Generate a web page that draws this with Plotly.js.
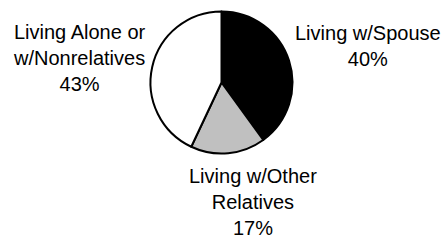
<!DOCTYPE html>
<html>
<head>
<meta charset="utf-8">
<script src="https://cdn.plot.ly/plotly-3.0.1.min.js"></script>
<style>html,body{margin:0;padding:0;background:#fff;}#chart{width:445px;height:241px;}</style>
</head>
<body>
<div id="chart"></div>
<script>
const categories = ["Living w/Spouse", "Living w/Other<br>Relatives", "Living Alone or<br>w/Nonrelatives"];
const percents = [40, 17, 43];
const sliceColors = ["#000000", "#c0c0c0", "#ffffff"];

const W = 445, H = 241;
const cx = 221.5, cy = 82.5, r = 71;
// label anchor positions (px) for each category
const labelPos = [[368, 46], [253, 202], [79, 58]];

const trace = {
  type: "pie",
  values: percents,
  labels: categories,
  sort: false,
  direction: "clockwise",
  rotation: 0,
  textinfo: "none",
  hoverinfo: "none",
  marker: { colors: sliceColors, line: { color: "#000", width: 2 } },
  domain: { x: [(cx - r) / W, (cx + r) / W], y: [1 - (cy + r) / H, 1 - (cy - r) / H] },
  showlegend: false
};

const annotations = categories.map((c, i) => ({
  xref: "paper", yref: "paper",
  x: labelPos[i][0] / W, y: 1 - labelPos[i][1] / H,
  xanchor: "center", yanchor: "middle",
  text: c + "<br>" + percents[i] + "%",
  showarrow: false,
  align: "center",
  font: { family: "Liberation Sans, Arial, sans-serif", size: 20, color: "#000" }
}));

Plotly.newPlot("chart", [trace], {
  width: W, height: H,
  margin: { l: 0, r: 0, t: 0, b: 0 },
  paper_bgcolor: "#fff",
  annotations: annotations
}, { staticPlot: true });
</script>
</body>
</html>
